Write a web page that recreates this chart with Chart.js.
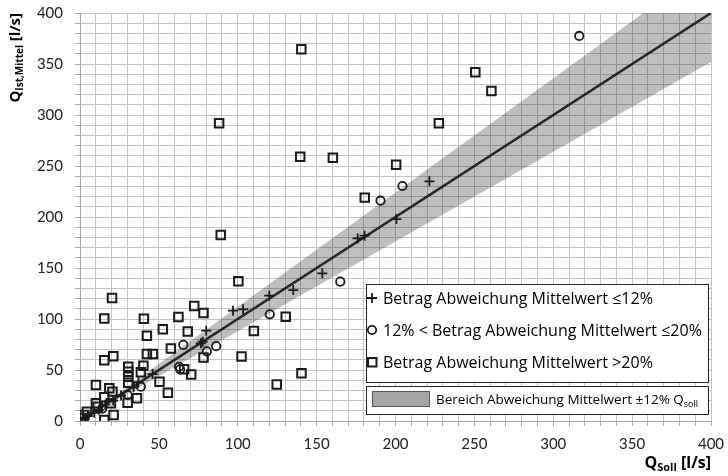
<!DOCTYPE html>
<html>
<head>
<meta charset="utf-8">
<script src="https://cdn.jsdelivr.net/npm/chart.js@4/dist/chart.umd.min.js"></script>
<style>
  html, body { margin: 0; padding: 0; background: #ffffff; }
  #wrap { width: 728px; height: 476px; position: relative; }
</style>
</head>
<body>
<div id="wrap"><canvas id="c" width="728" height="476"></canvas></div>
<script>
// Measured flows: Q_Soll (x) against Q_Ist,Mittel (y), in l/s, grouped by deviation class.
const devUpTo12 = [
  [3, 3], [5, 5], [9, 8], [12, 11], [16, 16], [21, 20], [26, 25], [34, 33], [37, 38], [46, 46],
  [76.6, 76.2], [77.8, 77.8], [80, 88.6], [97, 108.2], [103.4, 109.5], [120, 122.9],
  [135.2, 128.4], [153.6, 144.8], [176, 179], [180.4, 181.7], [200.6, 198], [221.5, 235]
];
const devUpTo20 = [
  [14, 12], [30.2, 25.5], [38.6, 33.6], [62.8, 53.2], [63.5, 50.7], [65.5, 74.6], [80.4, 68.3],
  [86.3, 73.4], [120.3, 104.6], [165, 136.6], [190.5, 216], [204.4, 230.4], [316.5, 377.5]
];
const devOver20 = [
  [1, 3], [2.7, 5.9], [4.4, 9.1], [10.1, 35.3], [18.6, 32], [20.6, 28.8], [15.4, 23.2], [10.1, 17.3],
  [11.2, 14], [19.6, 17.3], [21.3, 5.9], [15.4, 1], [15.4, 59.5], [21.1, 63.4], [15.4, 100.6],
  [20.3, 120.6], [30.6, 53.2], [30.6, 48.3], [30.6, 43.4], [30.6, 37.5], [30.2, 18], [36.1, 22.2],
  [38.6, 47.7], [40.2, 54.2], [40.5, 100.3], [42.4, 83.6], [42.4, 65.7], [46.2, 65.7], [50.4, 38.5],
  [55.7, 27.8], [52.5, 89.9], [57.6, 71.1], [62.4, 102], [66, 50.7], [68.3, 87.8], [70.5, 45.6],
  [72.4, 112.8], [78.3, 105.8], [78.3, 62.2], [88.2, 292], [89.2, 182.4], [100.4, 137], [102.4, 63.2],
  [110.2, 88.3], [124.7, 35.7], [130.4, 102.3], [140.4, 46.8], [139.6, 259], [140.3, 364.4],
  [160.3, 258], [180.5, 219], [200.4, 251.3], [227.5, 292], [250.6, 341.8], [260.8, 323.5]
];

// Reference line Q_Ist = Q_Soll and the ±12 % tolerance band around it
const refLineX = [0, 400];
const bandTolerance = 0.12;

const axisMin = 0;
const axisMax = 400;
const labelStep = 50;
const gridStep = 10;

const legendLabels = [
  'Betrag Abweichung Mittelwert \u226412%',
  '12% < Betrag Abweichung Mittelwert \u226420%',
  'Betrag Abweichung Mittelwert >20%'
];
const bandLabel = 'Bereich Abweichung Mittelwert \u00b112% Q';
const bandLabelSub = 'soll';

const toPts = arr => arr.map(([x, y]) => ({ x, y }));
const INK = '#1a1a1a';
const FONT = 'Lato, "Liberation Sans", sans-serif';
const TEXT_FONT = '"Open Sans", "Liberation Sans", sans-serif';

function drawRich(ctx, parts, x, y) {
  let cx = x;
  parts.forEach(p => { ctx.font = p[1]; ctx.fillText(p[0], cx, y + p[2]); cx += ctx.measureText(p[0]).width; });
}
function richWidth(ctx, parts) {
  let w = 0;
  parts.forEach(p => { ctx.font = p[1]; w += ctx.measureText(p[0]).width; });
  return w;
}

const overlay = {
  id: 'overlay',
  afterDraw(chart) {
    const ctx = chart.ctx;
    ctx.save();
    ctx.fillStyle = '#000';
    ctx.textBaseline = 'alphabetic';
    ctx.textAlign = 'left';

    // y-axis title (rotated), with subscript
    const yParts = [['Q', 'bold 15px ' + TEXT_FONT, 0], ['Ist,Mittel', 'bold 10px ' + TEXT_FONT, 3], [' [l/s]', 'bold 15px ' + TEXT_FONT, 0]];
    ctx.save();
    ctx.translate(20, 13);
    ctx.rotate(-Math.PI / 2);
    drawRich(ctx, yParts, -richWidth(ctx, yParts), 0);
    ctx.restore();

    // x-axis title, right aligned with plot
    const xParts = [['Q', 'bold 16px ' + TEXT_FONT, 0], ['Soll', 'bold 11px ' + TEXT_FONT, 3], [' [l/s]', 'bold 16px ' + TEXT_FONT, 0]];
    drawRich(ctx, xParts, 711 - richWidth(ctx, xParts), 468);

    // legend for point classes
    ctx.fillStyle = '#fff';
    ctx.fillRect(366, 284, 343, 98);
    ctx.strokeStyle = '#262626';
    ctx.lineWidth = 1;
    ctx.strokeRect(366.5, 284.5, 342, 98);
    const rows = [298, 330, 362];
    ctx.lineWidth = 1.8;
    ctx.strokeStyle = INK;
    ctx.beginPath();
    ctx.moveTo(372, rows[0] - 5); ctx.lineTo(372, rows[0] + 5);
    ctx.moveTo(367, rows[0]); ctx.lineTo(377, rows[0]);
    ctx.stroke();
    ctx.beginPath();
    ctx.arc(372, rows[1], 4.2, 0, Math.PI * 2);
    ctx.stroke();
    ctx.lineWidth = 2;
    ctx.strokeRect(368, rows[2] - 4, 8.5, 8.5);
    ctx.fillStyle = '#000';
    ctx.font = '16px ' + TEXT_FONT;
    ctx.textBaseline = 'middle';
    legendLabels.forEach((t, i) => ctx.fillText(t, 383, rows[i] + 1));

    // legend for tolerance band
    ctx.fillStyle = '#fff';
    ctx.fillRect(366, 386, 343, 29);
    ctx.lineWidth = 1;
    ctx.strokeStyle = '#262626';
    ctx.strokeRect(366.5, 386.5, 342, 28);
    ctx.fillStyle = '#a6a6a6';
    ctx.fillRect(372, 391, 58, 16);
    ctx.strokeStyle = '#595959';
    ctx.strokeRect(372.5, 391.5, 57, 15);
    ctx.fillStyle = '#000';
    ctx.font = '13.5px ' + TEXT_FONT;
    ctx.fillText(bandLabel, 436, 400);
    const bw = ctx.measureText(bandLabel).width;
    ctx.font = '9px ' + TEXT_FONT;
    ctx.fillText(bandLabelSub, 436 + bw, 404);

    ctx.restore();
  }
};

new Chart(document.getElementById('c'), {
  type: 'scatter',
  data: {
    datasets: [
      {
        label: legendLabels[0], data: toPts(devUpTo12),
        pointStyle: 'cross', pointRadius: 5, pointBorderWidth: 1.8,
        borderColor: INK, backgroundColor: INK, order: 0
      },
      {
        label: legendLabels[1], data: toPts(devUpTo20),
        pointStyle: 'circle', pointRadius: 4.2, pointBorderWidth: 1.8,
        borderColor: INK, backgroundColor: 'rgba(255,255,255,0)', order: 1
      },
      {
        label: legendLabels[2], data: toPts(devOver20),
        pointStyle: 'rect', pointRadius: 6, pointBorderWidth: 2,
        borderColor: INK, backgroundColor: 'rgba(255,255,255,0)', order: 2
      },
      {
        label: 'Q_Ist = Q_Soll', type: 'line',
        data: refLineX.map(x => ({ x, y: x })),
        borderColor: '#262626', borderWidth: 2.5, pointRadius: 0, fill: false, order: 3
      },
      {
        label: 'upper', type: 'line',
        data: refLineX.map(x => ({ x, y: x * (1 + bandTolerance) })),
        borderWidth: 0, borderColor: 'rgba(0,0,0,0)', pointRadius: 0,
        fill: '+1', backgroundColor: 'rgba(0,0,0,0.25)', order: 4
      },
      {
        label: 'lower', type: 'line',
        data: refLineX.map(x => ({ x, y: x * (1 - bandTolerance) })),
        borderWidth: 0, borderColor: 'rgba(0,0,0,0)', pointRadius: 0, fill: false, order: 5
      }
    ]
  },
  options: {
    responsive: false,
    animation: false,
    devicePixelRatio: 1,
    layout: { padding: { top: 13, right: 17, left: 0, bottom: 0 } },
    plugins: { legend: { display: false }, tooltip: { enabled: false } },
    scales: {
      x: {
        type: 'linear', min: axisMin, max: axisMax,
        afterFit: s => { s.height = 55; s.paddingLeft = 0; s.paddingRight = 0; },
        border: { color: '#a6a6a6', width: 1 },
        grid: { color: '#c4c4c4', lineWidth: 1, tickLength: 5, tickColor: '#a6a6a6' },
        ticks: {
          stepSize: gridStep, autoSkip: false, maxRotation: 0, padding: 9,
          color: '#222', font: { family: FONT, size: 15 },
          callback: v => (v % labelStep === 0 ? String(v) : '')
        }
      },
      y: {
        type: 'linear', min: axisMin, max: axisMax,
        afterFit: s => { s.width = 80; s.paddingTop = 0; s.paddingBottom = 0; },
        border: { color: '#a6a6a6', width: 1 },
        grid: { color: '#c4c4c4', lineWidth: 1, tickLength: 5, tickColor: '#a6a6a6' },
        ticks: {
          stepSize: gridStep, autoSkip: false, padding: 12,
          color: '#222', font: { family: FONT, size: 15 },
          callback: v => (v % labelStep === 0 ? String(v) : '')
        }
      }
    }
  },
  plugins: [overlay]
});
</script>
</body>
</html>
